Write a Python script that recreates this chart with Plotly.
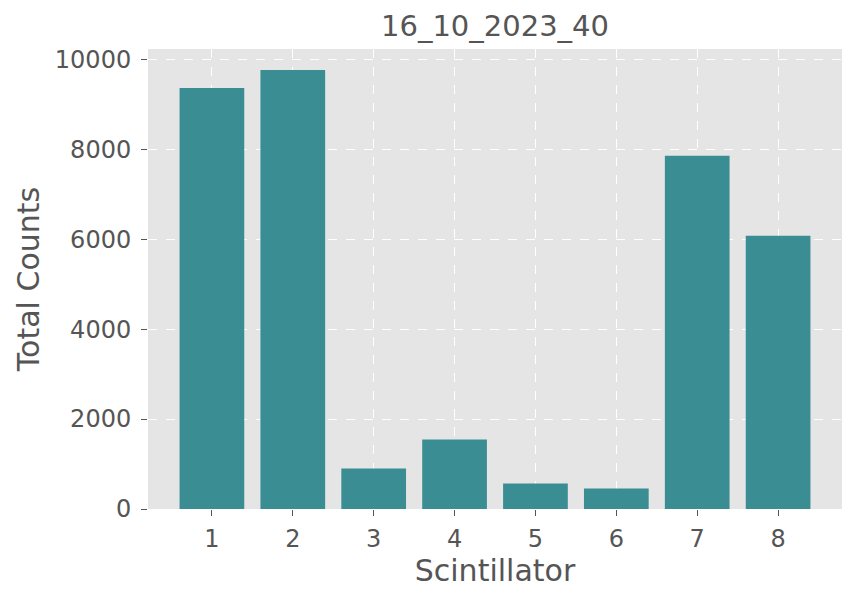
import plotly.graph_objects as go

# ---- datos ----
scintillator = [1, 2, 3, 4, 5, 6, 7, 8]
total_counts = [9367, 9767, 900, 1544, 567, 456, 7856, 6078]
y_ticks = [0, 2000, 4000, 6000, 8000, 10000]

BAR = "#3A8E93"; BG = "#E5E5E5"; INK = "#555555"

fig = go.Figure(go.Bar(x=scintillator, y=total_counts, width=0.8,
                       marker=dict(color=BAR, line=dict(width=0))))

# la página tiene 8 px de margen en body: se compensa en los márgenes
fig.update_layout(
    width=850, height=593,
    paper_bgcolor="white", plot_bgcolor=BG,
    margin=dict(l=140, r=16, t=41, b=92),
    font=dict(family="DejaVu Sans", color=INK),
    title=dict(text="16_10_2023_40", xref="paper", x=0.5, xanchor="center",
               yref="container", y=1 - 18 / 593, yanchor="middle",
               font=dict(size=29, color=INK)),
    showlegend=False,
)
fig.update_xaxes(range=[0.21, 8.79], tickvals=scintillator, tickfont=dict(size=24, color=INK),
                 ticklabelstandoff=2,
                 title=dict(text="Scintillator", font=dict(size=30, color=INK), standoff=8),
                 showgrid=True, gridcolor="white", griddash="dash", gridwidth=1,
                 ticks="outside", ticklen=6, tickcolor=INK, zeroline=False, showline=False)
fig.update_yaxes(range=[0, 10233], tickvals=y_ticks, ticktext=[str(v) for v in y_ticks],
                 tickfont=dict(size=24, color=INK), ticklabelstandoff=5,
                 title=dict(text="Total Counts", font=dict(size=30, color=INK), standoff=6),
                 showgrid=True, gridcolor="white", griddash="dash", gridwidth=1,
                 ticks="outside", ticklen=6, tickcolor=INK, zeroline=False, showline=False)

fig.write_html("out.html")
